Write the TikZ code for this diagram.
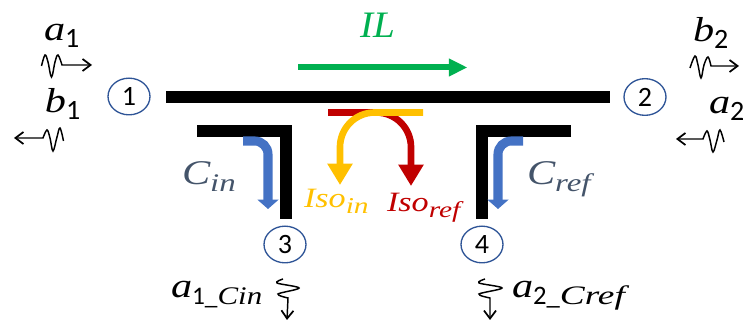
\documentclass[tikz,border=0pt]{standalone}
\usepackage{fontspec}
\setmainfont{Liberation Serif}
\newfontfamily\digitfont{Carlito}
\newfontfamily\wideit{Liberation Serif Italic}[FakeStretch=1.22]
\newfontfamily\widerit{Liberation Serif Italic}[FakeStretch=1.3]
\newfontfamily\widestit{Liberation Serif Italic}[FakeStretch=1.4]
\newfontfamily\nearit{Liberation Serif Italic}[FakeStretch=1.05]
\usetikzlibrary{arrows.meta,shapes.geometric}
\definecolor{portblue}{HTML}{2F5597}
\definecolor{slate}{HTML}{44546A}
\definecolor{cblue}{HTML}{4472C4}
\definecolor{ilgreen}{HTML}{00B050}
\definecolor{isoy}{HTML}{FFC000}
\definecolor{isor}{HTML}{C00000}
\newcommand{\symb}[2]{{\fontsize{#1}{#1}\selectfont\wideit #2}}
\newcommand{\subsym}[2]{{\fontsize{#1}{#1}\selectfont\widerit #2}}
\newcommand{\bigsub}[2]{\symb{26pt}{#1}\raisebox{-5pt}{\subsym{19pt}{#2}}}
\newcommand{\numsub}[2]{\symb{26pt}{#1}\raisebox{-5pt}{{\fontsize{21pt}{21pt}\selectfont\digitfont #2}}}
\begin{document}
\begin{tikzpicture}[x=0.75pt,y=-0.75pt,
  bar/.style={line width=9pt,line cap=butt,draw=black},
  portnode/.style={draw=portblue,line width=1pt,ellipse,minimum width=31.5pt,minimum height=27.5pt,inner sep=0pt,font=\digitfont\fontsize{21pt}{21pt}\selectfont},
  lab/.style={anchor=base west,inner sep=0pt,outer sep=0pt},
  wave/.style={draw=black,line width=1.1pt,-{Straight Barb[length=6pt,width=9pt,line width=1.3pt]}},
  bluearrow/.style={draw=cblue,line width=6.8pt,rounded corners=10pt,-{Triangle[length=7pt,width=15.5pt]}},
  isoarrow/.style={line width=5pt,rounded corners=26pt,-{Triangle[length=16pt,width=18pt]}}]
\useasboundingbox (0,0) rectangle (744,320);
% bars
\draw[bar] (166,97) -- (610,97);
\draw[bar,miter limit=10] (197,131) -- (286,131) -- (286,219);
\draw[bar,miter limit=10] (571,131) -- (482,131) -- (482,219);
% coupling arrows
\draw[bluearrow] (243,141) -- (268,141) -- (268,209);
\draw[bluearrow] (523,141) -- (498,141) -- (498,209);
% isolation arrows
\draw[isoarrow,draw=isor,isor] (328,112.5) -- (411,112.5) -- (411,186);
\draw[isoarrow,draw=isoy,isoy] (423,112.5) -- (340,112.5) -- (340,185);
% transmission arrow
\draw[draw=ilgreen,line width=4.5pt,-{Triangle[length=14pt,width=12.5pt]}] (298,67.5) -- (467.5,67.5);
% ports
\node[portnode] (p1) at (129,96.5) {1};
\node[portnode] (p2) at (645,97) {2};
\node[portnode] (p3) at (285,244.5) {3};
\node[portnode] (p4) at (482,244.5) {4};
% labels
\node[lab] (a1) at (44,41) {\numsub{a}{1}};
\node[lab] (b1) at (45,113) {\numsub{b}{1}};
\node[lab] (b2) at (693,42) {\numsub{b}{2}};
\node[lab] (a2) at (709,114) {\numsub{a}{2}};
\node[lab,text=ilgreen] (il) at (360,38) {{\fontsize{28pt}{28pt}\selectfont\nearit IL}};
\node[lab,text=slate] (cin) at (182,185) {\bigsub{C}{in}};
\node[lab,text=slate] (cref) at (527,185) {\bigsub{C}{ref}};
\node[lab,text=isoy] (isoin) at (304,208) {\symb{21pt}{Iso}\raisebox{-4pt}{\subsym{17pt}{in}}};
\node[lab,text=isor] (isoref) at (387,212) {\symb{21pt}{Iso}\raisebox{-4pt}{\subsym{17pt}{ref}}};
\node[lab] (acin) at (171,298) {\symb{26pt}{a}\raisebox{-5pt}{{\fontsize{19pt}{19pt}\selectfont\digitfont 1\_}\symb{19pt}{Cin}}};
\node[lab] (acref) at (512,298) {\symb{26pt}{a}\raisebox{-5pt}{{\fontsize{20pt}{20pt}\selectfont\digitfont 2\_}{\fontsize{20pt}{20pt}\selectfont\widestit Cref}}};
% waves
\draw[wave] plot[smooth,tension=0.6] coordinates {(41.5,66) (45,55) (48,62) (51.5,77) (55,62) (58,55) (62,65)} -- (92,65);
\draw[wave] plot[smooth,tension=0.6] coordinates {(63.5,141) (60,128) (57,137) (53,151) (50,138) (47,130) (43,138)} -- (14,138);
\draw[wave] plot[smooth,tension=0.6] coordinates {(690,68) (695,56) (698,65) (701,78) (704,65) (708,57) (711,66)} -- (739,66);
\draw[wave] plot[smooth,tension=0.6] coordinates {(724,142) (720,130) (717,140) (713,152) (710,140) (707,131) (703,139)} -- (676,139);
\draw[wave] plot[smooth,tension=0.55] coordinates {(283,279) (277,283) (299,288) (278,294) (288,298)} -- (287,320);
\draw[wave] plot[smooth,tension=0.55] coordinates {(485,279) (479,283) (502,288) (479,294) (490,298)} -- (490,320);
\end{tikzpicture}
\end{document}
